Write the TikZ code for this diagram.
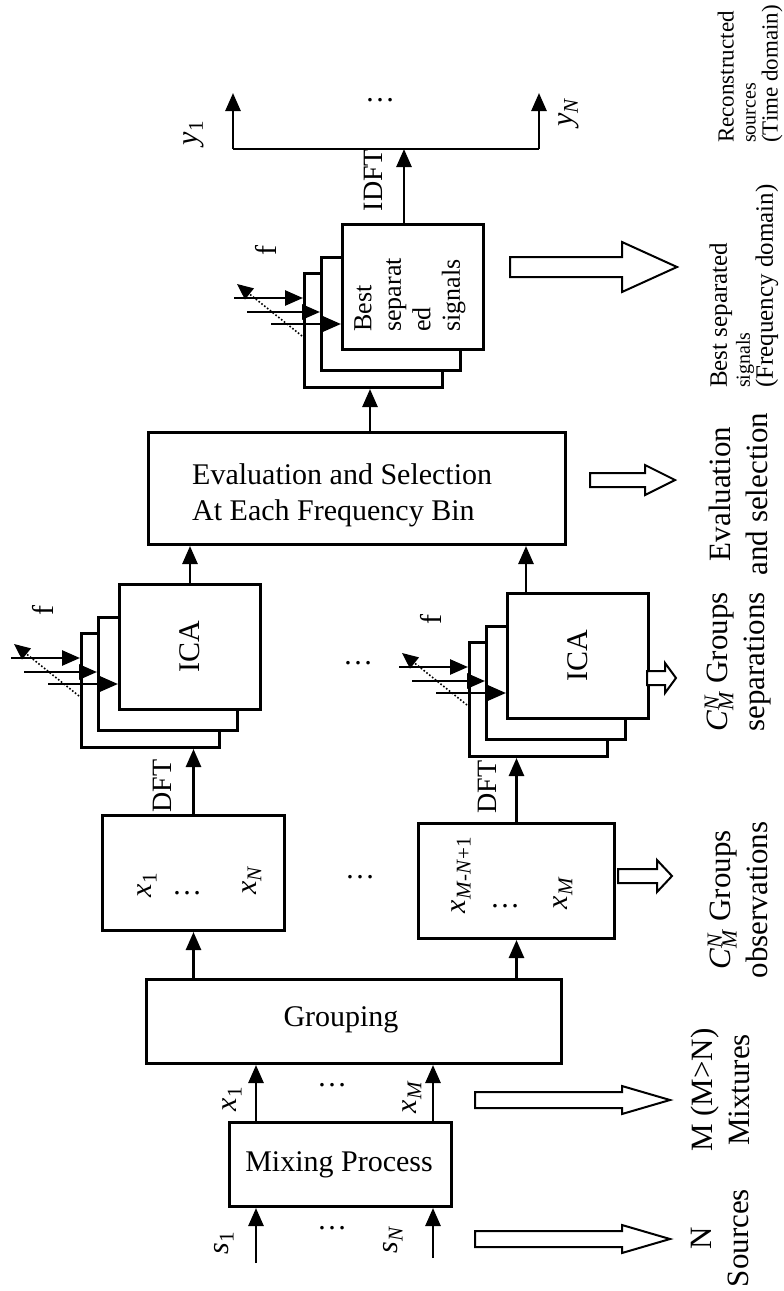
\documentclass[tikz,border=0pt]{standalone}
\usepackage{fontspec}
\setmainfont{Liberation Serif}
\usetikzlibrary{arrows.meta}

\newcommand{\vsub}[2]{\textit{#1}\textsubscript{#2}}
\newcommand{\cmn}{\textit{C}\rlap{\textsuperscript{\textit{N}}}\textsubscript{\textit{M}}}
% hollow arrow: start, head start, tip, y, shaft half, head half
\newcommand{\fatarrow}[6]{%
  \draw[fat] (#1,#4-#5) -- (#2,#4-#5) -- (#2,#4-#6) -- (#3,#4) -- (#2,#4+#6) -- (#2,#4+#5) -- (#1,#4+#5) -- cycle;}
% three stacked frequency bins, front box top left at (#2,#3)
\newcommand{\freqstack}[3]{%
  \begin{scope}[shift={(#2,#3)}]
    \node[card, minimum width=138pt, minimum height=114pt] (#1c) at (-38,49) {};
    \node[card, minimum width=139pt, minimum height=113pt] (#1b) at (-21,33) {};
    \node[card, minimum width=141pt, minimum height=125pt] (#1) at (0,0) {};
    \draw[arrow] (-107,75) -- (#1c.west |- 0,75);
    \draw[arrow] (-94,89) -- (#1b.west |- 0,89);
    \draw[arrow] (-70,101) -- (#1.west |- 0,101);
    \draw[dotted, line width=1.6pt, -{Triangle[length=16pt,width=14pt]}] (-39,113) -- (-104,61);
    \node[vtext] (#1f) at (-75,27) {f};
  \end{scope}}

\begin{document}
\begin{tikzpicture}[x=1pt, y=-1pt,
    card/.style={draw, line width=3pt, fill=white, anchor=north west, inner sep=0pt},
    arrow/.style={-{Triangle[length=18pt,width=15pt]}, line width=2.6pt},
    line/.style={line width=2.6pt},
    fat/.style={draw, line width=2pt, fill=white},
    htext/.style={inner sep=0pt, font=\fontsize{30}{36}\selectfont},
    vtext/.style={rotate=90, inner sep=0pt, font=\fontsize{30}{36}\selectfont},
    note/.style={rotate=90, inner sep=0pt, align=center, font=\fontsize{31}{37}\selectfont}
]
\useasboundingbox (0,0) rectangle (784,1291);

% mixing and grouping
\node[card, minimum width=222pt, minimum height=84pt] (mix) at (228,1121) {};
\node[htext] (mixtext) at (339,1165) {Mixing Process};
\node[card, minimum width=415pt, minimum height=84pt] (group) at (145,978) {};
\node[htext] (grouptext) at (341,1020) {Grouping};

\coordinate (s1) at (256,1263);
\coordinate (sN) at (433,1258);
\draw[arrow] (s1) -- (s1 |- mix.south);
\draw[arrow] (sN) -- (sN |- mix.south);
\draw[arrow] (s1 |- mix.north) -- (s1 |- group.south);
\draw[arrow] (sN |- mix.north) -- (sN |- group.south);
\node[vtext] (s1lab) at (224,1243) {\vsub{s}{1}};
\node[vtext] (sNlab) at (393,1240) {\vsub{s}{\textit{N}}};
\node[vtext] (x1lab) at (232,1099) {\vsub{x}{1}};
\node[vtext] (xMlab) at (412,1097) {\vsub{x}{\textit{M}}};
\node[htext] (sdots) at (332,1228) {\dots};
\node[htext] (xdots) at (332,1085) {\dots};

% group observations
\node[card, minimum width=182pt, minimum height=115pt] (obsA) at (101,814) {};
\node[card, minimum width=196pt, minimum height=115pt] (obsB) at (417,822) {};
\draw[arrow] (obsA.south |- group.north) -- (obsA.south);
\draw[arrow] (obsB.south |- group.north) -- (obsB.south);
\node[vtext] (xa1) at (147,885) {\vsub{x}{1}};
\node[htext] (xadots) at (187,893) {\dots};
\node[vtext] (xaN) at (252,880) {\vsub{x}{\textit{N}}};
\node[vtext] (xb1) at (461,875) {\vsub{x}{\textit{M}-\textit{N}+1}};
\node[htext] (xbdots) at (505,906) {\dots};
\node[vtext] (xbM) at (563,893) {\vsub{x}{\textit{M}}};
\node[htext] (obsdots) at (360,877) {\dots};

% ICA per frequency bin
\freqstack{icaA}{118}{583}
\freqstack{icaB}{506}{592}
\node[vtext] (icaAtext) at (icaA) {ICA};
\node[vtext] (icaBtext) at (icaB) {ICA};
\node[htext] (icadots) at (358,663) {\dots};
\draw[arrow] (obsA.north) -- (obsA.north |- icaAc.south);
\draw[arrow] (obsB.north) -- (obsB.north |- icaBc.south);
\node[vtext, font=\fontsize{28}{30}\selectfont] (dftA) at (162,786) {DFT};
\node[vtext, font=\fontsize{28}{30}\selectfont] (dftB) at (487,787) {DFT};

% evaluation
\node[card, minimum width=417pt, minimum height=112pt] (eval) at (147,431) {};
\node[htext, align=left, anchor=west] (evaltext) at (192,495) {Evaluation and Selection\\At Each Frequency Bin};
\draw[arrow] (icaA.north) -- (icaA.north |- eval.south);
\coordinate (icaBout) at (526,592);
\draw[arrow] (icaBout) -- (icaBout |- eval.south);

% best separated signals and IDFT
\freqstack{best}{341}{223}
\node[vtext, align=left, anchor=west, font=\fontsize{26}{29.5}\selectfont] (besttext) at (410,332) {Best\\separat\\ed\\signals};
\coordinate (evalout) at (370,431);
\draw[arrow] (evalout) -- (evalout |- bestc.south);
\coordinate (idftin) at (404,223);
\coordinate (ybar) at (404,149);
\coordinate (ybar1) at (233,149);
\coordinate (ybarN) at (539,149);
\coordinate (yout1) at (233,93);
\coordinate (youtN) at (539,93);
\draw[arrow] (idftin) -- (ybar);
\draw[line] (ybar1) -- (ybarN);
\draw[arrow] (ybar1) -- (yout1);
\draw[arrow] (ybarN) -- (youtN);
\node[vtext, font=\fontsize{28}{30}\selectfont] (idft) at (373,180) {IDFT};
\node[vtext] (y1lab) at (194,133) {\vsub{y}{1}};
\node[vtext] (yNlab) at (569,112) {\vsub{y}{\textit{N}}};
\node[htext] (ydots) at (380,100) {\dots};

% hollow arrows to the stage notes
\fatarrow{475}{622}{670}{1239}{8}{14}
\fatarrow{475}{622}{670}{1100}{8}{14}
\fatarrow{618}{657}{672}{876}{7}{16}
\fatarrow{647}{665}{676}{678}{7}{15}
\fatarrow{590}{645}{675}{480}{7}{15}
\fatarrow{510}{622}{677}{267}{10}{25}

% stage notes
\node[note] (srcnote) at (720,1238) {N\\Sources};
\node[note] (mixnote) at (720,1090) {M (M>N)\\Mixtures};
\node[note] (obsnote) at (738,900) {\cmn{} Groups\\observations};
\node[note] (sepnote) at (738,662) {\cmn{} Groups\\separations};
\node[note] (evalnote) at (738,494) {Evaluation\\and selection};
\node[note, align=left, anchor=west, font=\fontsize{25}{23}\selectfont] (bestnote) at (744,388) {Best separated\\{\fontsize{20}{23}\selectfont signals}\\(Frequency domain)};
\node[note, align=left, anchor=west, font=\fontsize{23}{22}\selectfont] (recnote) at (750,143) {Reconstructed\\{\fontsize{20}{22}\selectfont sources}\\(Time domain)};

\end{tikzpicture}
\end{document}
